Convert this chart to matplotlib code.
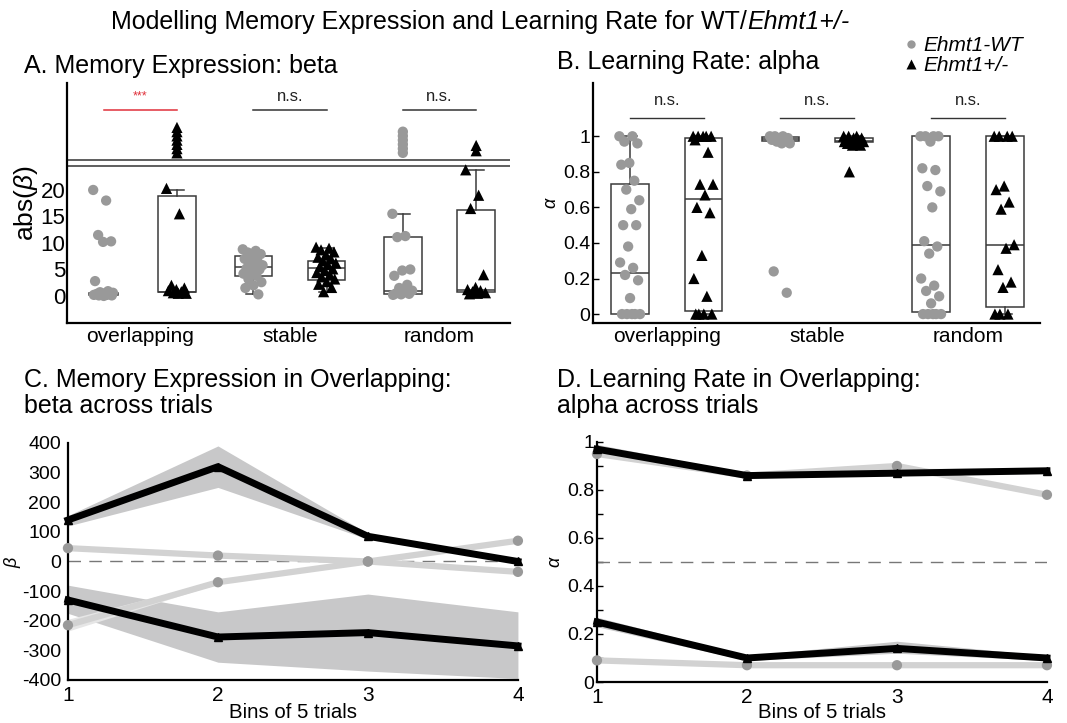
import numpy as np
import matplotlib
matplotlib.use("Agg")
import matplotlib.pyplot as plt
from matplotlib.lines import Line2D

plt.rcParams['font.family'] = ['Liberation Sans', 'DejaVu Sans']
plt.rcParams['axes.unicode_minus'] = False
plt.rcParams['mathtext.fontset'] = 'custom'
plt.rcParams['mathtext.rm'] = 'Liberation Sans'
plt.rcParams['mathtext.it'] = 'Liberation Sans:italic'

# ---- data --------------------------------------------------------------
conditions = ['overlapping', 'stable', 'random']

# A. abs(beta) per animal (values below the axis break)
beta_wt = [
    [20, 18, 11.5, 10.3, 10.2, 2.8, 0.9, 0.7, 0.6, 0.5, 0.4, 0.4, 0.3, 0.2, 0.2, 0.1, 0.1, 0.0],
    [8.8, 8.5, 8.2, 7.9, 7.5, 7.0, 6.5, 6.0, 5.8, 5.5, 5.2, 5.0, 4.6, 4.2, 3.8, 3.2, 2.6, 2.0, 1.5, 0.3],
    [15.5, 11.3, 11.1, 5.0, 4.8, 3.8, 2.1, 1.5, 1.0, 0.7, 0.5, 0.4, 0.3, 0.2],
]
beta_mut = [
    [20.3, 15.5, 2.0, 1.5, 1.2, 1.0, 0.8, 0.6, 0.5, 0.5],
    [9.2, 9.0, 8.7, 8.3, 7.8, 7.3, 7.0, 6.6, 6.2, 5.9, 5.5, 5.1, 4.8, 4.4, 4.0, 3.6, 3.2, 2.7, 2.2, 1.6, 0.8],
    [23.8, 19.0, 16.5, 4.0, 1.6, 1.2, 1.0, 0.8, 0.6, 0.5, 0.4],
]
# animals above the axis break, given as positions on the compressed upper segment
beta_wt_high = [[], [], [27.0, 27.8, 28.6, 29.4, 30.2, 31.0]]
beta_mut_high = [[27.0, 27.8, 28.6, 29.4, 30.2, 31.0, 31.8], [], [27.4, 28.4]]
# box stats: whislo, q1, median, q3, whishi
beta_wt_box = [[0.0, 0.15, 0.4, 0.6, 0.9], [0.4, 3.7, 5.4, 7.6, 8.6], [0.3, 0.4, 1.0, 11.2, 15.5]]
beta_mut_box = [[0.5, 0.7, 0.75, 18.9, 20.0], [0.8, 3.1, 5.3, 6.6, 9.0], [0.5, 0.7, 1.1, 16.2, 23.7]]
beta_sig = ['***', 'n.s.', 'n.s.']

# B. alpha per animal
alpha_wt = [
    [1.0, 1.0, 0.97, 0.96, 0.85, 0.84, 0.75, 0.70, 0.64, 0.59, 0.50, 0.50, 0.38, 0.29, 0.26, 0.22, 0.19, 0.09, 0, 0, 0, 0, 0],
    [1.0, 1.0, 1.0, 0.99, 0.99, 0.98, 0.98, 0.97, 0.96, 0.96, 0.24, 0.12],
    [1.0, 1.0, 1.0, 1.0, 0.97, 0.82, 0.81, 0.72, 0.69, 0.60, 0.41, 0.38, 0.34, 0.20, 0.16, 0.13, 0.10, 0.06, 0, 0, 0, 0, 0],
]
alpha_mut = [
    [1.0, 1.0, 1.0, 1.0, 1.0, 0.98, 0.91, 0.73, 0.73, 0.67, 0.60, 0.57, 0.33, 0.20, 0.10, 0, 0, 0, 0],
    [1.0, 1.0, 1.0, 0.99, 0.99, 0.98, 0.98, 0.97, 0.97, 0.96, 0.96, 0.95, 0.95, 0.97, 0.98, 0.80],
    [1.0, 1.0, 1.0, 1.0, 0.72, 0.70, 0.63, 0.59, 0.39, 0.37, 0.25, 0.18, 0.15, 0, 0, 0],
]
alpha_wt_box = [[0.0, 0.0, 0.23, 0.73, 1.0], [0.96, 0.975, 0.985, 0.995, 1.0], [0.0, 0.01, 0.39, 1.0, 1.0]]
alpha_mut_box = [[0.0, 0.02, 0.65, 0.99, 1.0], [0.95, 0.965, 0.975, 0.99, 1.0], [0.0, 0.04, 0.39, 1.0, 1.0]]
alpha_sig = ['n.s.', 'n.s.', 'n.s.']

# C. beta across bins (overlapping)
bins = [1, 2, 3, 4]
beta_mut_pos = [140, 320, 85, 0]
beta_mut_pos_lo = [120, 250, 75, -5]
beta_mut_pos_hi = [155, 390, 95, 5]
beta_mut_neg = [-130, -255, -240, -285]
beta_mut_neg_lo = [-175, -340, -370, -395]
beta_mut_neg_hi = [-80, -170, -110, -170]
beta_wt_pos = [45, 20, 0, -35]
beta_wt_neg = [-215, -70, 0, 70]
beta_wt_neg_lo = [-235, -75, -5, 65]
beta_wt_neg_hi = [-195, -65, 5, 75]

# D. alpha across bins (overlapping)
alpha_mut_hi = [0.97, 0.86, 0.87, 0.88]
alpha_mut_hi_lo = [0.95, 0.85, 0.86, 0.87]
alpha_mut_hi_hi = [0.99, 0.87, 0.89, 0.89]
alpha_wt_hi = [0.95, 0.86, 0.90, 0.78]
alpha_mut_lo = [0.25, 0.10, 0.14, 0.10]
alpha_mut_lo_lo = [0.23, 0.09, 0.12, 0.09]
alpha_mut_lo_hi = [0.27, 0.11, 0.17, 0.11]
alpha_wt_lo = [0.09, 0.07, 0.07, 0.07]

# ---- style --------------------------------------------------------------
WT_COL = '#999999'
LINE_WT = '#d2d2d2'
BAND = '#c8c8c9'
BOX_EDGE = '#3a3a3a'
OFF = 0.245
TICK_FS = 14
TITLE_FS = 18


def jitter(n, width=0.07):
    # deterministic spread so points don't sit on top of each other
    k = np.arange(n)
    return ((k * 0.618) % 1 - 0.5) * 2 * width


def stats(s):
    return dict(whislo=s[0], q1=s[1], med=s[2], q3=s[3], whishi=s[4], fliers=[])


def group_panel(ax, wt, mut, wt_box, mut_box, widths_wt):
    props = dict(showfliers=False, patch_artist=True,
                 boxprops=dict(facecolor='white', edgecolor=BOX_EDGE, lw=1.1),
                 medianprops=dict(color=BOX_EDGE, lw=1.1),
                 whiskerprops=dict(color=BOX_EDGE, lw=1.1),
                 capprops=dict(color=BOX_EDGE, lw=1.1), capwidths=0.1)
    for i in range(3):
        x = i + 1
        ax.bxp([stats(wt_box[i])], positions=[x - OFF], widths=widths_wt[i], **props)
        ax.bxp([stats(mut_box[i])], positions=[x + OFF], widths=0.25, **props)
        ax.scatter(x - OFF + jitter(len(wt[i])), wt[i], s=55, color=WT_COL,
                   edgecolors='none', zorder=3, clip_on=False)
        ax.scatter(x + OFF + jitter(len(mut[i])), mut[i], s=65, marker='^',
                   color='black', edgecolors='none', zorder=3, clip_on=False)


def style_axes(ax):
    for side in ['top', 'right']:
        ax.spines[side].set_visible(False)
    for side in ['left', 'bottom']:
        ax.spines[side].set_linewidth(1.6)
    ax.tick_params(axis='y', direction='in', length=4, width=1, labelsize=TICK_FS, pad=2)
    ax.tick_params(axis='x', length=0, labelsize=15, pad=3)


fig = plt.figure(figsize=(10.67, 7.23), dpi=100)

# ---- A ------------------------------------------------------------------
axA = fig.add_axes([0.0628, 0.5533, 0.415, 0.332])
group_panel(axA, beta_wt, beta_mut, beta_wt_box, beta_mut_box, [0.19, 0.25, 0.25])
for i in range(3):
    if beta_wt_high[i]:
        axA.scatter(np.full(len(beta_wt_high[i]), i + 1 - OFF), beta_wt_high[i], s=55,
                    color=WT_COL, edgecolors='none', zorder=3)
    if beta_mut_high[i]:
        axA.scatter(np.full(len(beta_mut_high[i]), i + 1 + OFF), beta_mut_high[i], s=65,
                    marker='^', color='black', edgecolors='none', zorder=3)
    col = '#e0303a' if beta_sig[i] == '***' else '#333333'
    axA.plot([i + 1 - OFF, i + 1 + OFF], [35.1, 35.1], color=col, lw=1.1)
    if beta_sig[i] == '***':
        axA.text(i + 1, 37.6, beta_sig[i], color=col, ha='center', va='center', fontsize=9)
    else:
        axA.text(i + 1, 37.6, beta_sig[i], color='#222222', ha='center', va='center', fontsize=12)
for yb in [24.5, 25.7]:
    axA.axhline(yb, color='#333333', lw=1.1)
axA.set_xlim(0.51, 3.47)
axA.set_ylim(-5.1, 40.2)
axA.set_yticks([0, 5, 10, 15, 20])
axA.set_xticks([1, 2, 3])
axA.set_xticklabels(conditions)
style_axes(axA)
axA.tick_params(axis='y', length=0, labelsize=16, pad=1)
axA.set_ylabel(r'abs($\beta$)', fontsize=19, labelpad=0)
axA.yaxis.set_label_coords(-0.062, 0.5)

# ---- B ------------------------------------------------------------------
axB = fig.add_axes([0.5558, 0.5533, 0.419, 0.332])
group_panel(axB, alpha_wt, alpha_mut, alpha_wt_box, alpha_mut_box, [0.25, 0.25, 0.25])
for i in range(3):
    axB.plot([i + 1 - OFF, i + 1 + OFF], [1.105, 1.105], color='#333333', lw=1.0)
    axB.text(i + 1, 1.2, alpha_sig[i], ha='center', va='center', fontsize=12, color='#222222')
axB.set_xlim(0.51, 3.48)
axB.set_ylim(-0.05, 1.30)
axB.set_yticks([0, 0.2, 0.4, 0.6, 0.8, 1])
axB.set_yticklabels(['0', '0.2', '0.4', '0.6', '0.8', '1'])
axB.set_xticks([1, 2, 3])
axB.set_xticklabels(conditions)
style_axes(axB)
axB.set_ylabel(r'$\alpha$', fontsize=13, labelpad=2)

# ---- C ------------------------------------------------------------------
axC = fig.add_axes([0.0637, 0.0595, 0.4217, 0.3278])
axC.fill_between(bins, beta_mut_pos_lo, beta_mut_pos_hi, color=BAND, lw=0)
axC.fill_between(bins, beta_mut_neg_lo, beta_mut_neg_hi, color=BAND, lw=0)
axC.fill_between(bins, beta_wt_neg_lo, beta_wt_neg_hi, color='#e6e6e6', lw=0)
axC.axhline(0, color='#777777', lw=1, dashes=(9, 6))
for series in [beta_wt_pos, beta_wt_neg]:
    axC.plot(bins, series, color=LINE_WT, lw=4.5, solid_capstyle='butt')
    axC.scatter(bins, series, s=55, color=WT_COL, edgecolors='none', zorder=3, clip_on=False)
for series in [beta_mut_pos, beta_mut_neg]:
    axC.plot(bins, series, color='black', lw=5, marker='^', ms=6, clip_on=False, zorder=4)
axC.set_xlim(1, 4)
axC.set_ylim(-400, 400)
axC.set_yticks(np.arange(-400, 401, 100))
axC.set_xticks(bins)
style_axes(axC)
axC.tick_params(axis='y', length=0, labelsize=TICK_FS, pad=5)
axC.tick_params(axis='x', pad=4)
axC.set_xlabel('Bins of 5 trials', fontsize=14.7)
axC.xaxis.set_label_coords(0.5, -0.097)
axC.set_ylabel(r'$\beta$', fontsize=13, labelpad=0)
axC.yaxis.set_label_coords(-0.1, 0.5)

# ---- D ------------------------------------------------------------------
axD = fig.add_axes([0.5595, 0.0567, 0.4217, 0.332])
axD.fill_between(bins, alpha_mut_hi_lo, alpha_mut_hi_hi, color=BAND, lw=0)
axD.fill_between(bins, alpha_mut_lo_lo, alpha_mut_lo_hi, color=BAND, lw=0)
axD.axhline(0.5, color='#777777', lw=1, dashes=(9, 6))
for series in [alpha_wt_hi, alpha_wt_lo]:
    axD.plot(bins, series, color=LINE_WT, lw=4.5, solid_capstyle='butt')
    axD.scatter(bins, series, s=55, color=WT_COL, edgecolors='none', zorder=3, clip_on=False)
for series in [alpha_mut_hi, alpha_mut_lo]:
    axD.plot(bins, series, color='black', lw=5, marker='^', ms=6, clip_on=False, zorder=4)
axD.set_xlim(1, 4)
axD.set_ylim(0, 1)
axD.set_yticks([0, 0.2, 0.4, 0.6, 0.8, 1])
axD.set_yticklabels(['0', '0.2', '0.4', '0.6', '0.8', '1'])
axD.set_yticks(np.arange(0.1, 1.0, 0.2), minor=True)
axD.set_xticks(bins)
style_axes(axD)
axD.tick_params(axis='y', which='minor', direction='in', length=4, width=1)
axD.tick_params(axis='x', pad=4)
axD.set_xlabel('Bins of 5 trials', fontsize=14.7)
axD.xaxis.set_label_coords(0.5, -0.0875)
axD.set_ylabel(r'$\alpha$', fontsize=13, labelpad=2)

# ---- titles / legend ----------------------------------------------------
fig.text(747 / 1067, 1 - 22 / 723, 'Modelling Memory Expression and Learning Rate for WT/',
         ha='right', va='center', fontsize=TITLE_FS)
fig.text(747 / 1067, 1 - 22 / 723, 'Ehmt1+/-', ha='left', va='center', fontsize=TITLE_FS,
         style='italic')
fig.text(24 / 1067, 1 - 66 / 723, 'A. Memory Expression: beta', ha='left', va='center', fontsize=TITLE_FS)
fig.text(557 / 1067, 1 - 62 / 723, 'B. Learning Rate: alpha', ha='left', va='center', fontsize=TITLE_FS)
fig.text(24 / 1067, 1 - 393 / 723, 'C. Memory Expression in Overlapping:\nbeta across trials',
         ha='left', va='center', fontsize=TITLE_FS, linespacing=1.1)
fig.text(557 / 1067, 1 - 393 / 723, 'D. Learning Rate in Overlapping:\nalpha across trials',
         ha='left', va='center', fontsize=TITLE_FS, linespacing=1.1)

handles = [Line2D([], [], ls='none', marker='o', ms=6, color=WT_COL, mec='none'),
           Line2D([], [], ls='none', marker='^', ms=7, color='black', mec='none')]
fig.legend(handles, ['Ehmt1-WT', 'Ehmt1+/-'], loc='upper left',
           bbox_to_anchor=(890 / 1067, 1 - 26 / 723), frameon=False,
           handletextpad=0.1, handlelength=1.0, labelspacing=0.05, borderpad=0,
           prop=dict(style='italic', size=15))

fig.savefig('out.png', dpi=100)
